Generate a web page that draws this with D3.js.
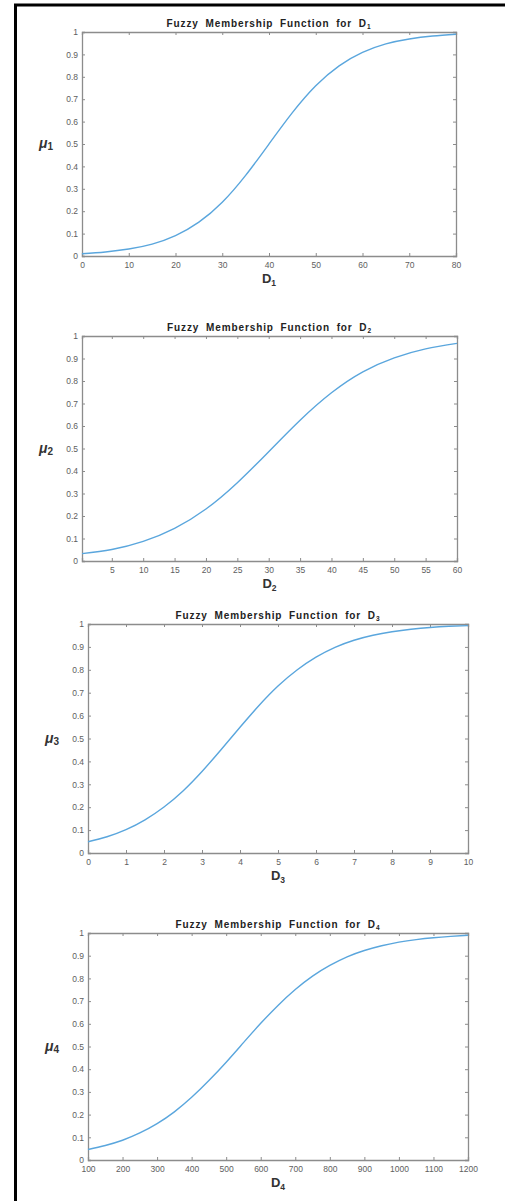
<!DOCTYPE html>
<html>
<head>
<meta charset="utf-8">
<script src="https://cdn.jsdelivr.net/npm/d3@7"></script>
<style>
  body { margin: 0; background: #fff; }
  svg { display: block; font-family: "Liberation Sans", Arial, sans-serif; }
</style>
</head>
<body>
<svg id="chart" width="506" height="1201"></svg>
<script>
// values
const d1X = [0, 5, 10, 15, 20, 25, 30, 35, 40, 45, 50, 55, 60, 65, 70, 75, 80];
const d1Mu = [0.010, 0.018, 0.031, 0.053, 0.091, 0.151, 0.240, 0.360, 0.500, 0.640, 0.760, 0.849, 0.909, 0.947, 0.969, 0.982, 0.990];

const d2X = [0.25, 5, 10, 15, 20, 25, 30, 35, 40, 45, 50, 55, 60];
const d2Mu = [0.033, 0.051, 0.087, 0.145, 0.231, 0.348, 0.486, 0.626, 0.748, 0.841, 0.903, 0.943, 0.967];

const d3X = [0, 0.5, 1, 1.5, 2, 2.5, 3, 3.5, 4, 4.5, 5, 5.5, 6, 6.5, 7, 7.5, 8, 8.5, 9, 9.5, 10];
const d3Mu = [0.049, 0.071, 0.102, 0.145, 0.201, 0.271, 0.356, 0.451, 0.549, 0.644, 0.729, 0.799, 0.855, 0.898, 0.929, 0.951, 0.966, 0.977, 0.985, 0.990, 0.993];

const d4X = [100, 150, 200, 250, 300, 350, 400, 450, 500, 550, 600, 650, 700, 750, 800, 850, 900, 950, 1000, 1050, 1100, 1150, 1200];
const d4Mu = [0.046, 0.064, 0.087, 0.119, 0.160, 0.212, 0.276, 0.350, 0.431, 0.517, 0.602, 0.681, 0.751, 0.810, 0.857, 0.895, 0.923, 0.944, 0.960, 0.971, 0.979, 0.985, 0.990];

const yTicks = [0, 0.1, 0.2, 0.3, 0.4, 0.5, 0.6, 0.7, 0.8, 0.9, 1];
const xTicks1 = [0, 10, 20, 30, 40, 50, 60, 70, 80];
const xTicks2 = [5, 10, 15, 20, 25, 30, 35, 40, 45, 50, 55, 60];
const xTicks3 = [0, 1, 2, 3, 4, 5, 6, 7, 8, 9, 10];
const xTicks4 = [100, 200, 300, 400, 500, 600, 700, 800, 900, 1000, 1100, 1200];

const panels = [
  { n: '1', xs: d1X, ys: d1Mu, xd: [0, 80], ticks: xTicks1, box: [82, 32, 456, 256] },
  { n: '2', xs: d2X, ys: d2Mu, xd: [0.25, 60], ticks: xTicks2, box: [82, 336, 457, 561] },
  { n: '3', xs: d3X, ys: d3Mu, xd: [0, 10], ticks: xTicks3, box: [88, 624, 468, 853] },
  { n: '4', xs: d4X, ys: d4Mu, xd: [100, 1200], ticks: xTicks4, box: [88, 933, 468, 1160] }
];

const svg = d3.select('#chart');
const axisColor = '#8c8c8c';
const textColor = '#5e5e5e';
const fmt = d3.format('~g');

// black frame of the scanned page
svg.append('line').attr('x1', 14).attr('x2', 505).attr('y1', 5).attr('y2', 5)
  .attr('stroke', '#000').attr('stroke-width', 3);
svg.append('line').attr('x1', 15.5).attr('x2', 15.5).attr('y1', 4).attr('y2', 1201)
  .attr('stroke', '#000').attr('stroke-width', 3);

panels.forEach(function (p) {
  const [l, t, r, b] = p.box;
  const x = d3.scaleLinear().domain(p.xd).range([l, r]);
  const y = d3.scaleLinear().domain([0, 1]).range([b, t]);
  const g = svg.append('g');

  // inward ticks on all four sides, like a boxed matlab axis
  const axes = [
    d3.axisBottom(x).tickValues(p.ticks).tickSize(-3).tickPadding(5.5).tickFormat(fmt),
    d3.axisTop(x).tickValues(p.ticks).tickSize(-3).tickFormat(''),
    d3.axisLeft(y).tickValues(yTicks).tickSize(-3).tickPadding(4).tickFormat(fmt),
    d3.axisRight(y).tickValues(yTicks).tickSize(-3).tickFormat('')
  ];
  const pos = ['translate(0,' + b + ')', 'translate(0,' + t + ')', 'translate(' + l + ',0)', 'translate(' + r + ',0)'];
  axes.forEach(function (a, i) {
    const ag = g.append('g').attr('transform', pos[i]).call(a);
    ag.attr('font-family', null).attr('font-size', null);
    ag.select('.domain').attr('stroke', axisColor).attr('stroke-width', 1.3);
    ag.selectAll('.tick line').attr('stroke', axisColor).attr('stroke-width', 1);
    ag.selectAll('.tick text').attr('fill', textColor).style('font-size', '8.5px');
  });

  g.append('path')
    .datum(p.xs.map(function (v, i) { return [v, p.ys[i]]; }))
    .attr('fill', 'none')
    .attr('stroke', '#5aa6dd')
    .attr('stroke-width', 1.4)
    .attr('d', d3.line().x(function (d) { return x(d[0]); }).y(function (d) { return y(d[1]); }).curve(d3.curveNatural));

  // title
  const title = g.append('text')
    .attr('x', (l + r) / 2).attr('y', t - 5)
    .attr('text-anchor', 'middle')
    .attr('fill', '#222')
    .style('font-size', '10px').style('font-weight', 'bold')
    .style('letter-spacing', '0.9px').style('word-spacing', '3px');
  title.append('tspan').text('Fuzzy Membership Function for D');
  title.append('tspan').attr('dy', 2).style('font-size', '6.5px').text(p.n);

  // x label
  const xl = g.append('text')
    .attr('x', (l + r) / 2).attr('y', b + 27)
    .attr('text-anchor', 'middle')
    .attr('fill', '#333')
    .style('font-size', '13px').style('font-weight', 'bold');
  xl.append('tspan').text('D');
  xl.append('tspan').attr('dy', 3).style('font-size', '8.5px').text(p.n);

  // y label
  const yl = g.append('text')
    .attr('x', l - 36).attr('y', (t + b) / 2 + 4)
    .attr('text-anchor', 'middle')
    .attr('fill', '#333')
    .style('font-size', '14px').style('font-weight', 'bold').style('font-style', 'italic');
  yl.append('tspan').text('μ');
  yl.append('tspan').attr('dy', 2).style('font-size', '10px').style('font-style', 'normal').text(p.n);
});
</script>
</body>
</html>
